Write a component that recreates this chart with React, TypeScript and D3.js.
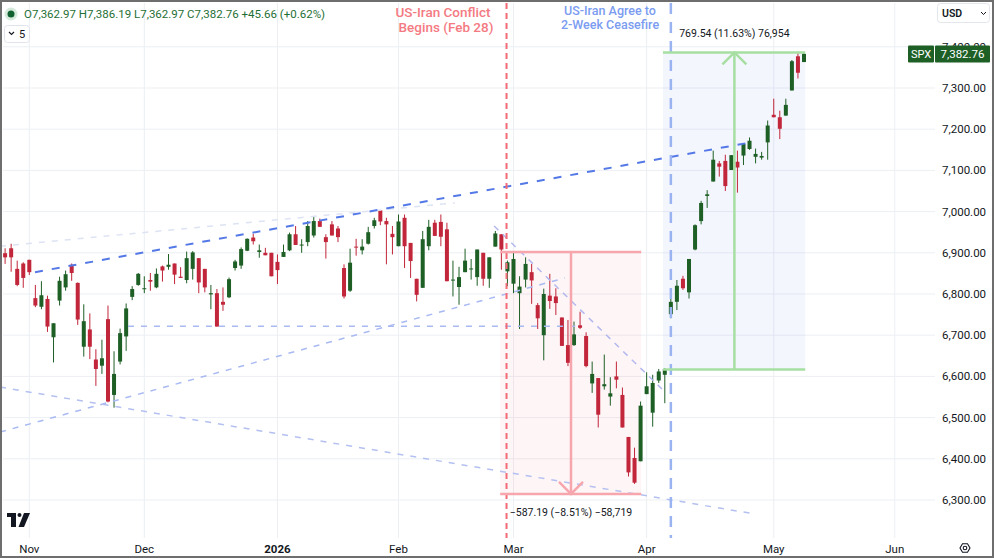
import React from "react";
import * as d3 from "d3";

// ---- data (daily SPX bars, Oct 28 2025 .. May 8 2026) ----
const opens = [
  6899, 6911, 6861, 6874, 6883, 6790, 6769, 6788, 6695, 6784,
  6816, 6871, 6827, 6672, 6714, 6641, 6626, 6739, 6555, 6636,
  6697, 6793, 6822, 6812, 6834, 6816, 6867, 6866, 6874, 6842,
  6834, 6861, 6887, 6861, 6799, 6802, 6781, 6792, 6863, 6869,
  6905, 6937, 6902, 6900, 6900, 6878, 6890, 6906, 6945, 6918,
  6926, 6942, 6977, 6938, 6969, 6959, 6863, 6808, 6915, 6906,
  6922, 6965, 7003, 6977, 6946, 6916, 6985, 6924, 6837, 6815,
  6916, 6973, 6975, 6957, 6834, 6817, 6853, 6861, 6841, 6900,
  6837, 6915, 6945, 6855, 6825, 6802, 6835, 6853, 6773, 6700,
  6796, 6794, 6743, 6676, 6676, 6724, 6698, 6583, 6596, 6576,
  6551, 6600, 6555, 6453, 6402, 6394, 6557, 6512, 6590, 6604,
  6751, 6781, 6837, 6804, 6908, 6977, 7038, 7073, 7117, 7123,
  7101, 7121, 7136, 7152, 7133, 7131, 7168, 7235, 7229, 7233,
  7294, 7377, 7362.97,
];
const highs = [
  6911, 6922, 6881, 6877, 6883, 6822, 6831, 6796, 6729, 6842,
  6857, 6874, 6828, 6775, 6753, 6666, 6689, 6772, 6661, 6716,
  6777, 6819, 6851, 6843, 6851, 6862, 6869, 6897, 6874, 6865,
  6903, 6904, 6887, 6861, 6822, 6812, 6816, 6840, 6883, 6913,
  6935, 6946, 6920, 6912, 6900, 6896, 6920, 6949, 6965, 6933,
  6977, 6988, 6983, 6945, 6977, 6965, 6872, 6910, 6934, 6933,
  6963, 6985, 7003, 6985, 6965, 6993, 6993, 6924, 6837, 6953,
  6980, 6980, 6993, 6973, 6881, 6866, 6910, 6885, 6908, 6900,
  6889, 6953, 6945, 6881, 6904, 6843, 6889, 6873, 6778, 6813,
  6849, 6814, 6743, 6737, 6733, 6757, 6707, 6636, 6596, 6653,
  6598, 6636, 6573, 6453, 6427, 6539, 6610, 6604, 6618, 6620,
  6791, 6834, 6844, 6885, 6969, 7026, 7052, 7148, 7123, 7138,
  7137, 7148, 7166, 7180, 7153, 7145, 7221, 7274, 7245, 7274,
  7368, 7384, 7386.19,
];
const lows = [
  6873, 6854, 6819, 6815, 6846, 6768, 6763, 6708, 6634, 6772,
  6808, 6832, 6725, 6648, 6642, 6577, 6606, 6537, 6524, 6629,
  6662, 6785, 6820, 6802, 6808, 6814, 6830, 6859, 6824, 6839,
  6826, 6835, 6802, 6804, 6763, 6721, 6759, 6790, 6857, 6861,
  6904, 6920, 6888, 6894, 6843, 6824, 6890, 6904, 6919, 6900,
  6916, 6937, 6963, 6886, 6942, 6926, 6789, 6805, 6893, 6896,
  6920, 6959, 6967, 6872, 6896, 6916, 6863, 6839, 6782, 6815,
  6906, 6941, 6916, 6831, 6794, 6774, 6853, 6835, 6820, 6820,
  6815, 6915, 6859, 6819, 6802, 6715, 6816, 6776, 6715, 6639,
  6764, 6749, 6674, 6625, 6674, 6715, 6622, 6560, 6476, 6568,
  6529, 6571, 6476, 6357, 6339, 6394, 6557, 6478, 6584, 6535,
  6741, 6761, 6810, 6789, 6906, 6969, 7009, 7073, 7085, 7050,
  7101, 7046, 7113, 7150, 7117, 7126, 7126, 7229, 7176, 7233,
  7294, 7323, 7362.97,
];
const closes = [
  6889, 6889, 6822, 6839, 6853, 6772, 6797, 6721, 6729, 6832,
  6848, 6851, 6738, 6734, 6672, 6618, 6644, 6539, 6606, 6705,
  6765, 6812, 6849, 6814, 6830, 6849, 6857, 6871, 6847, 6839,
  6887, 6901, 6828, 6816, 6802, 6721, 6774, 6836, 6879, 6909,
  6934, 6928, 6906, 6894, 6843, 6858, 6902, 6945, 6919, 6920,
  6965, 6977, 6963, 6926, 6942, 6938, 6794, 6876, 6914, 6915,
  6950, 6979, 6976, 6969, 6938, 6976, 6916, 6880, 6798, 6933,
  6963, 6941, 6939, 6831, 6835, 6841, 6881, 6862, 6908, 6837,
  6889, 6947, 6908, 6877, 6885, 6818, 6873, 6833, 6741, 6800,
  6783, 6778, 6674, 6633, 6702, 6718, 6625, 6606, 6507, 6581,
  6559, 6592, 6476, 6367, 6342, 6529, 6576, 6584, 6612, 6618,
  6781, 6820, 6814, 6885, 6967, 7021, 7042, 7126, 7109, 7062,
  7137, 7107, 7164, 7172, 7140, 7135, 7209, 7229, 7201, 7259,
  7365, 7337, 7382.76,
];

const monthLabels = ["Nov", "Dec", "2026", "Feb", "Mar", "Apr", "May", "Jun"];
const monthBarIndex = [4, 23, 45, 65, 84, 106, 127, 147];
const priceTicks = [6300, 6400, 6500, 6600, 6700, 6800, 6900, 7000, 7100, 7200, 7300, 7400];

// drawings in (bar index, price)
const conflictBar = 82.85;
const ceasefireBar = 110;
const dropBox = { x0: 81.8, x1: 105.1, top: 6902.0, bottom: 6314.8, mid: 93.5 };
const riseBox = { x0: 108.7, x1: 132.2, bottom: 6616.65, top: 7386.19, mid: 120.5 };
const trendDark = [[4.94, 6853], [123.6, 7169]];
const trendPale = [[-0.84, 6916], [74.3, 7021]];
const trendLowChannel = [[-0.84, 6465], [92.5, 6839]];
const levelLine = [[20.3, 6722], [94.2, 6722]];
const trendDownLow = [[-0.84, 6574], [123.9, 6266]];
const trendMarch = [[80.8, 6965], [108.7, 6567]];

const W = 994;
const H = 558;
const PLOT_R = 935;
const PLOT_B = 538;
const FONT = "Roboto, 'Liberation Sans', sans-serif";
const UP = "#1e5f26";
const DOWN = "#c1263a";

export default function App() {
  const x = d3.scaleLinear().domain([0, 132]).range([5.1, 804]);
  const y = d3.scaleLinear().domain([6300, 7300]).range([500, 88]);
  const bw = 4;
  const line = (pts: number[][]) => d3.line()(pts.map((p) => [x(p[0]), y(p[1])]) as [number, number][]) || "";

  const last = closes[closes.length - 1];
  const ly = y(last);

  return (
    <svg width={W} height={H} style={{ position: "absolute", left: 0, top: 0, background: "#fff" }} fontFamily={FONT}>
      <rect x={0} y={0} width={W} height={H} fill="#fff" />
      {/* grid */}
      {priceTicks.map((p) => (
        <line key={"h" + p} x1={3} x2={PLOT_R} y1={y(p)} y2={y(p)} stroke="#eceff3" strokeWidth={1} />
      ))}
      {monthBarIndex.map((b, i) => (
        <line key={"v" + i} x1={x(b)} x2={x(b)} y1={3} y2={PLOT_B} stroke="#eceff3" strokeWidth={1} />
      ))}

      {/* measurement fills */}
      <rect x={x(dropBox.x0)} y={y(dropBox.top)} width={x(dropBox.x1) - x(dropBox.x0)} height={y(dropBox.bottom) - y(dropBox.top)} fill="rgba(242,80,100,0.06)" />
      <rect x={x(riseBox.x0)} y={y(riseBox.top)} width={x(riseBox.x1) - x(riseBox.x0)} height={y(riseBox.bottom) - y(riseBox.top)} fill="rgba(70,110,230,0.06)" />

      {/* candles */}
      {opens.map((o, i) => {
        const c = closes[i];
        const col = c >= o ? UP : DOWN;
        const cx = x(i);
        const top = y(Math.max(o, c));
        const bot = y(Math.min(o, c));
        return (
          <g key={"c" + i}>
            <line x1={cx} x2={cx} y1={y(highs[i])} y2={y(lows[i])} stroke={col} strokeWidth={1} />
            <rect x={cx - bw / 2} y={top} width={bw} height={Math.max(1, bot - top)} fill={col} />
          </g>
        );
      })}

      {/* trend lines */}
      <path d={line(trendPale)} stroke="#dde3f3" strokeWidth={1.5} strokeDasharray="6 7" fill="none" />
      <path d={line(trendLowChannel)} stroke="#a9b9f2" strokeWidth={1.5} strokeDasharray="6 7" fill="none" />
      <path d={line(levelLine)} stroke="#a9b9f2" strokeWidth={1.5} strokeDasharray="6 7" fill="none" />
      <path d={line(trendDownLow)} stroke="#b4c0f0" strokeWidth={1.5} strokeDasharray="6 7" fill="none" />
      <path d={line(trendMarch)} stroke="#b3b8ee" strokeWidth={1.5} strokeDasharray="6 6" fill="none" />
      <path d={line(trendDark)} stroke="#5479e6" strokeWidth={2} strokeDasharray="8 9" fill="none" />

      {/* event lines */}
      <line x1={x(conflictBar)} x2={x(conflictBar)} y1={3} y2={PLOT_B} stroke="#f26b77" strokeWidth={2} strokeDasharray="6 4" />
      <line x1={x(ceasefireBar)} x2={x(ceasefireBar)} y1={3} y2={PLOT_B} stroke="#9ab3f1" strokeWidth={2.5} strokeDasharray="11 8" />

      {/* drop measurement */}
      <g stroke="#f7a6ad" strokeWidth={2.5} fill="none">
        <line x1={x(dropBox.x0)} x2={x(dropBox.x1)} y1={y(dropBox.top)} y2={y(dropBox.top)} />
        <line x1={x(dropBox.x0)} x2={x(dropBox.x1)} y1={y(dropBox.bottom)} y2={y(dropBox.bottom)} />
        <line x1={x(dropBox.mid)} x2={x(dropBox.mid)} y1={y(dropBox.top)} y2={y(dropBox.bottom)} />
        <polyline points={`${x(dropBox.mid) - 12},${y(dropBox.bottom) - 12} ${x(dropBox.mid)},${y(dropBox.bottom)} ${x(dropBox.mid) + 12},${y(dropBox.bottom) - 12}`} />
      </g>
      <text x={x(dropBox.mid)} y={y(dropBox.bottom) + 22} fontSize={10.5} fill="#131722" textAnchor="middle">−587.19 (−8.51%) −58,719</text>

      {/* rise measurement */}
      <g stroke="#a6dfa1" strokeWidth={2.5} fill="none">
        <line x1={x(riseBox.x0)} x2={x(riseBox.x1)} y1={y(riseBox.top)} y2={y(riseBox.top)} />
        <line x1={x(riseBox.x0)} x2={x(riseBox.x1)} y1={y(riseBox.bottom)} y2={y(riseBox.bottom)} />
        <line x1={x(riseBox.mid)} x2={x(riseBox.mid)} y1={y(riseBox.top)} y2={y(riseBox.bottom)} />
        <polyline points={`${x(riseBox.mid) - 12},${y(riseBox.top) + 12} ${x(riseBox.mid)},${y(riseBox.top)} ${x(riseBox.mid) + 12},${y(riseBox.top) + 12}`} />
      </g>
      <text x={x(riseBox.mid)} y={y(riseBox.top) - 15} fontSize={10.5} fill="#131722" textAnchor="middle">769.54 (11.63%) 76,954</text>

      {/* event captions */}
      <g fill="#f47a82" fontSize={13.5} fontWeight={500} textAnchor="middle">
        <text x={443} y={17}>US-Iran Conflict</text>
        <text x={446} y={31.5}>Begins (Feb 28)</text>
      </g>
      <g fill="#7b9cf0" fontSize={12.5} fontWeight={500} textAnchor="middle">
        <text x={610} y={15}>US-Iran Agree to</text>
        <text x={610} y={29}>2-Week Ceasefire</text>
      </g>

      {/* price axis */}
      <rect x={PLOT_R} y={0} width={W - PLOT_R} height={H} fill="#fff" />
      {priceTicks.map((p) => (
        <text key={"pl" + p} x={942} y={y(p) + 4} fontSize={11.5} fill="#131722">
          {d3.format(",.2f")(p)}
        </text>
      ))}
      <rect x={908} y={ly - 8.5} width={26} height={17} fill={UP} rx={1} />
      <text x={921} y={ly + 4} fontSize={11} fill="#fff" textAnchor="middle">SPX</text>
      <rect x={935} y={ly - 8.5} width={55} height={17} fill={UP} rx={1} />
      <text x={962.5} y={ly + 4} fontSize={11.5} fill="#fff" textAnchor="middle">{d3.format(",.2f")(last)}</text>

      {/* USD dropdown */}
      <rect x={937.5} y={3.5} width={52} height={19} rx={3} fill="#fff" stroke="#e3e6ec" />
      <text x={942} y={17} fontSize={10.5} fontWeight={600} fill="#131722">USD</text>
      <polyline points="981,12 983.5,14.5 986,12" stroke="#131722" strokeWidth={1} fill="none" />

      {/* time axis */}
      <rect x={0} y={PLOT_B} width={W} height={H - PLOT_B} fill="#fff" />
      {monthLabels.map((m, i) => (
        <text key={"ml" + i} x={x(monthBarIndex[i])} y={553} fontSize={11.5} fill="#131722" textAnchor="middle" fontWeight={m === "2026" ? 700 : 400}>
          {m}
        </text>
      ))}
      <g transform="translate(965,548)" stroke="#131722" strokeWidth={1.1} fill="none">
        <polygon points="5,0 2.5,4.3 -2.5,4.3 -5,0 -2.5,-4.3 2.5,-4.3" />
        <circle r={1.8} />
      </g>

      {/* header */}
      <circle cx={11} cy={14} r={6.5} fill="#d6eadb" />
      <circle cx={11} cy={14} r={3.5} fill="#11602f" />
      <text x={24} y={18} fontSize={11.5} fill="#1f6f36">O7,362.97 H7,386.19 L7,362.97 C7,382.76 +45.66 (+0.62%)</text>
      <rect x={4.5} y={25.5} width={25} height={17} rx={3} fill="#fff" stroke="#e0e3eb" />
      <polyline points="9,32 11.5,34.5 14,32" stroke="#131722" strokeWidth={1.1} fill="none" />
      <text x={19} y={38} fontSize={11} fill="#131722">5</text>

      {/* logo */}
      <g fill="#131722">
        <rect x={7} y={513} width={9} height={4} />
        <rect x={11} y={513} width={5} height={14} />
        <circle cx={19.5} cy={515} r={2} />
        <polygon points="24,513 30,513 24,527 18.5,527" />
      </g>

      {/* frame */}
      <rect x={1} y={1} width={W - 2} height={H - 2} fill="none" stroke="#6e6e6e" strokeWidth={2} />
    </svg>
  );
}
